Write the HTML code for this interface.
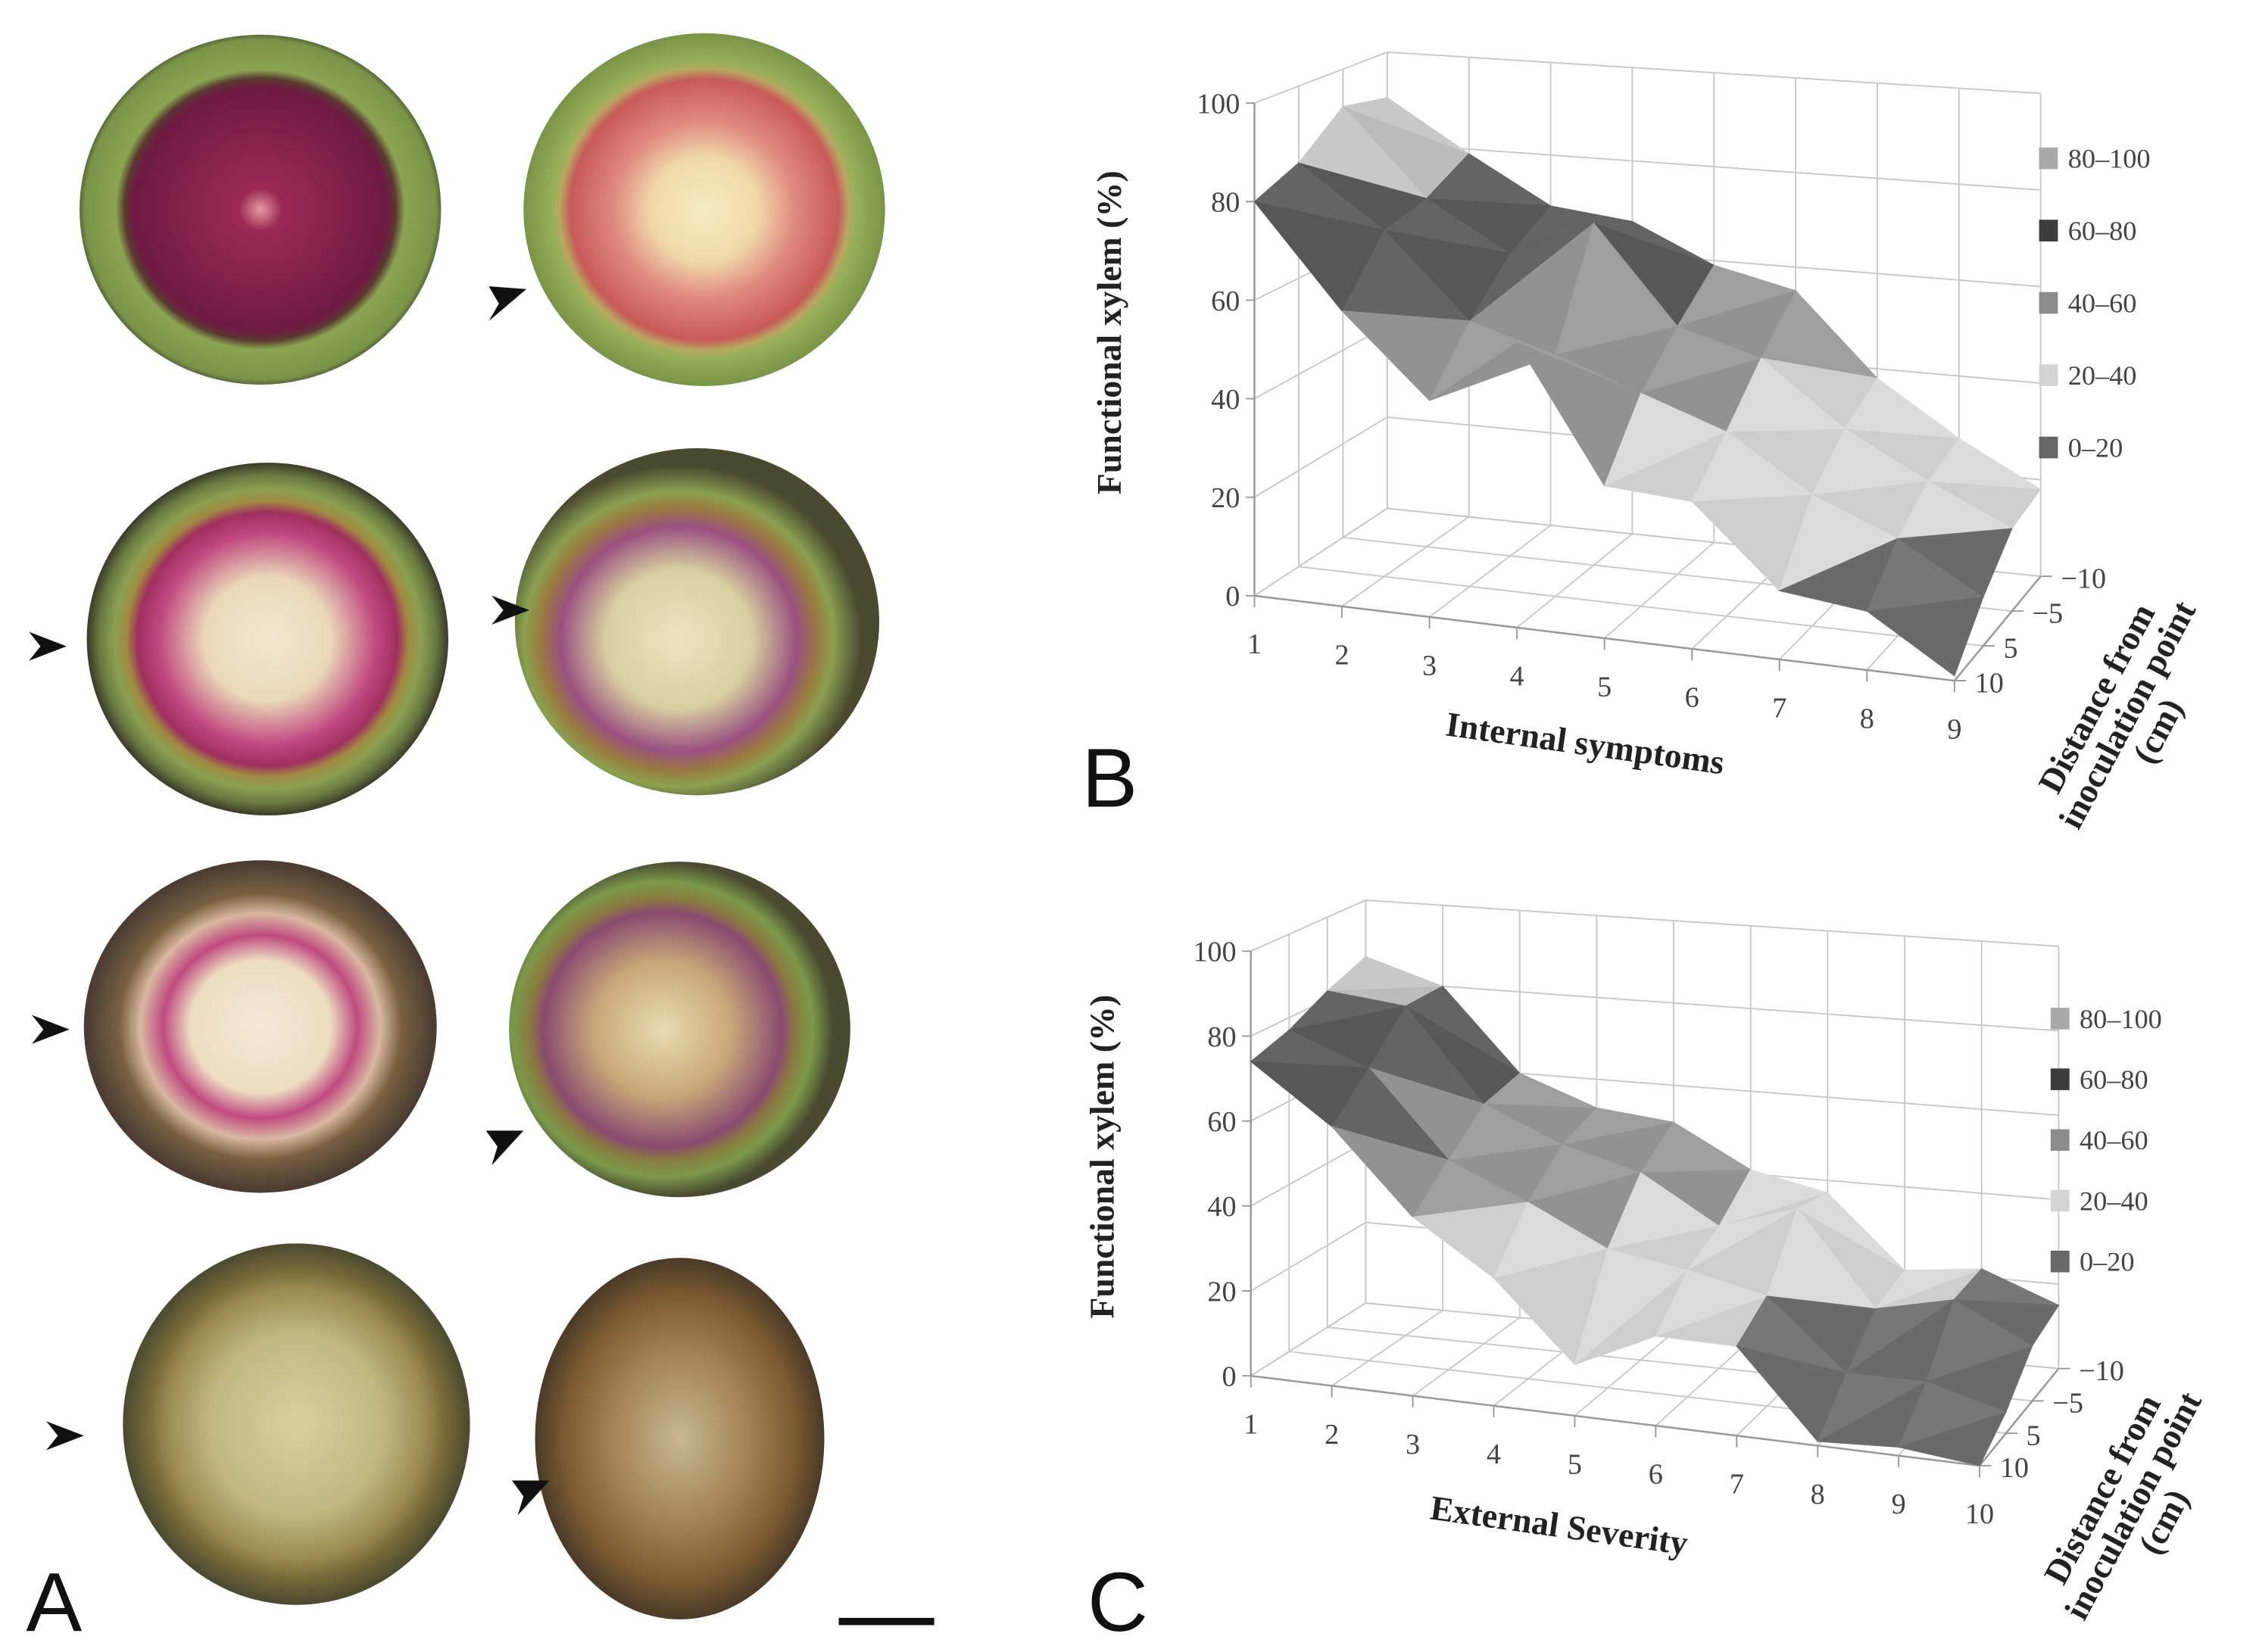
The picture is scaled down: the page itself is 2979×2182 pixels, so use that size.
<!DOCTYPE html>
<html><head><meta charset="utf-8"><style>
html,body{margin:0;padding:0;background:#fff}
svg{display:block}
.tk{font-family:"Liberation Serif",serif;font-size:20px;fill:#444}
.ttl{font-family:"Liberation Serif",serif;font-weight:bold;font-size:24px;fill:#222}
.lg{font-family:"Liberation Serif",serif;font-size:19px;fill:#444}
.pl{font-family:"Liberation Sans",sans-serif;font-size:58px;fill:#111}
</style></head><body>
<svg id="fig" width="2979" height="2182" viewBox="0 0 1560 1142.6" preserveAspectRatio="none" xmlns="http://www.w3.org/2000/svg">
<defs>
<radialGradient id="g1"><stop offset="0" stop-color="#e89aa0"/><stop offset="0.12" stop-color="#9a2a55"/><stop offset="0.7" stop-color="#6e1a42"/><stop offset="0.75" stop-color="#5a3a30"/><stop offset="0.8" stop-color="#8aa452"/><stop offset="0.97" stop-color="#7a9448"/><stop offset="1" stop-color="#5a6a3a"/></radialGradient>
<radialGradient id="g2"><stop offset="0" stop-color="#f6ecc0"/><stop offset="0.3" stop-color="#f0d8a8"/><stop offset="0.5" stop-color="#e08a80"/><stop offset="0.74" stop-color="#c85a5a"/><stop offset="0.8" stop-color="#b8a860"/><stop offset="0.84" stop-color="#98b058"/><stop offset="1" stop-color="#7a9448"/></radialGradient>
<radialGradient id="g3"><stop offset="0" stop-color="#f0e8d0"/><stop offset="0.35" stop-color="#ead8b8"/><stop offset="0.6" stop-color="#c04880"/><stop offset="0.72" stop-color="#a03060"/><stop offset="0.78" stop-color="#a08a40"/><stop offset="0.85" stop-color="#8aa050"/><stop offset="0.93" stop-color="#6a7a40"/><stop offset="1" stop-color="#3c3a2a"/></radialGradient>
<radialGradient id="g4" cx="0.45" cy="0.55"><stop offset="0" stop-color="#ece4c0"/><stop offset="0.4" stop-color="#d8d0a0"/><stop offset="0.65" stop-color="#9a5080"/><stop offset="0.76" stop-color="#9a7a40"/><stop offset="0.85" stop-color="#8aa050"/><stop offset="1" stop-color="#4a4a30"/></radialGradient>
<radialGradient id="g5"><stop offset="0" stop-color="#f4ead8"/><stop offset="0.4" stop-color="#ecdcc0"/><stop offset="0.55" stop-color="#c04a80"/><stop offset="0.68" stop-color="#d8b8a0"/><stop offset="0.8" stop-color="#7a6040"/><stop offset="0.92" stop-color="#5a4a38"/><stop offset="1" stop-color="#4a3a30"/></radialGradient>
<radialGradient id="g6" cx="0.45" cy="0.5"><stop offset="0" stop-color="#e8dcb0"/><stop offset="0.4" stop-color="#c8a878"/><stop offset="0.7" stop-color="#8a4a70"/><stop offset="0.78" stop-color="#8a7a40"/><stop offset="0.88" stop-color="#7a9a4a"/><stop offset="1" stop-color="#4a4a30"/></radialGradient>
<radialGradient id="g7"><stop offset="0" stop-color="#d8d0a0"/><stop offset="0.5" stop-color="#c0b880"/><stop offset="0.75" stop-color="#9a8a50"/><stop offset="0.85" stop-color="#7a6a38"/><stop offset="1" stop-color="#4a4a30"/></radialGradient>
<radialGradient id="g8"><stop offset="0" stop-color="#c8b890"/><stop offset="0.5" stop-color="#a08050"/><stop offset="0.8" stop-color="#7a5a30"/><stop offset="1" stop-color="#4a3a28"/></radialGradient>
</defs>

<g>
<ellipse cx="180" cy="145" rx="125" ry="121" fill="url(#g1)"/>
<ellipse cx="487" cy="145" rx="125" ry="122" fill="url(#g2)"/>
<ellipse cx="185" cy="442" rx="125" ry="122" fill="url(#g3)"/>
<ellipse cx="482" cy="430" rx="126" ry="120" fill="url(#g4)"/>
<ellipse cx="180" cy="710" rx="122" ry="115" fill="url(#g5)"/>
<ellipse cx="470" cy="712" rx="118" ry="116" fill="url(#g6)"/>
<ellipse cx="205" cy="985" rx="120" ry="125" fill="url(#g7)"/>
<ellipse cx="470" cy="995" rx="100" ry="125" fill="url(#g8)"/>
<g fill="#111">
<path d="M364,200 L338,222 L345,210 L338,198 Z"/>
<path d="M46,447 L20,437 L28,447 L20,457 Z"/>
<path d="M366,422 L340,412 L348,422 L340,432 Z"/>
<path d="M48,712 L22,702 L30,712 L22,722 Z"/>
<path d="M362,782 L340,806 L344,793 L336,782 Z"/>
<path d="M58,993 L32,983 L40,993 L32,1003 Z"/>
<path d="M380,1024 L358,1048 L362,1035 L354,1024 Z"/>
</g>
<text class="pl" x="18" y="1128">A</text>
<rect x="580" y="1119" width="66" height="5" fill="#111"/>
</g>

<g id="chartB"></g>
<g id="chartC"></g>

<text class="pl" x="748" y="558">B</text>
<text class="pl" x="752" y="1128">C</text>
</svg>
<script>
// ---- Chart B data ----
const bCats = ["1","2","3","4","5","6","7","8","9"];
const bDepths = ["10","5","\u22125","\u221210"];
const bRow10 = [80, 60, 44, 58, 31, 30, 14, 12, 1];
const bRow5 = [84, 72, 55, 50, 44, 38, 27, 20, 10];
const bRowM5 = [92, 74, 64, 72, 52, 47, 34, 25, 17];
const bRowM10 = [90, 79, 69, 67, 59, 55, 38, 27, 18];
const bZTicks = [0, 20, 40, 60, 80, 100];
// ---- Chart C data ----
const cCats = ["1","2","3","4","5","6","7","8","9","10"];
const cDepths = ["10","5","\u22125","\u221210"];
const cRow10 = [74, 61, 42, 30, 12, 21, 21, 1, 2, 0];
const cRow5 = [77, 70, 50, 42, 33, 30, 26, 10, 10, 5];
const cRowM5 = [82, 80, 58, 50, 45, 34, 40, 18, 22, 13];
const cRowM10 = [86, 80, 60, 53, 51, 41, 37, 20, 22, 15];
const cZTicks = [0, 20, 40, 60, 80, 100];
const legendLabels = ["80\u2013100","60\u201380","40\u201360","20\u201340","0\u201320"];

const NS = "http://www.w3.org/2000/svg";
function mk(parent, tag, attrs){const e=document.createElementNS(NS,tag);for(const k in attrs)e.setAttribute(k,attrs[k]);parent.appendChild(e);return e;}
function zx(x){return 785.5 + x*0.4965;}

function drawChart(g, geo, cats, depths, rows, zTicks, title){
  const nx = cats.length, nd = depths.length;
  function P(ix, id, z){
    const u = ix/(nx-1), v = id/(nd-1);
    const fx = geo.FL[0]*(1-u)*(1-v)+geo.FR[0]*u*(1-v)+geo.BL[0]*(1-u)*v+geo.BR[0]*u*v;
    const fy = geo.FL[1]*(1-u)*(1-v)+geo.FR[1]*u*(1-v)+geo.BL[1]*(1-u)*v+geo.BR[1]*u*v;
    const h = geo.H[0]*(1-u)*(1-v)+geo.H[1]*u*(1-v)+geo.H[2]*(1-u)*v+geo.H[3]*u*v;
    return [fx, fy - z/100*h];
  }
  const grid = mk(g,'g',{stroke:'#c8c8c8','stroke-width':1,fill:'none'});
  
  
  zTicks.forEach(t=>{
    const a=P(0,0,t),b=P(0,nd-1,t),c=P(nx-1,nd-1,t);
    mk(grid,'polyline',{points:`${a} ${b} ${c}`});
  });
  cats.forEach((c,i)=>{
    const a=P(i,0,0),b=P(i,nd-1,0),t=P(i,nd-1,100);
    mk(grid,'polyline',{points:`${a} ${b} ${t}`});
  });
  depths.forEach((d,j)=>{
    const a=P(0,j,100),b=P(0,j,0),c=P(nx-1,j,0);
    mk(grid,'polyline',{points:`${a} ${b} ${c}`});
  });
  const ax = mk(g,'g',{stroke:'#999','stroke-width':1.3,fill:'none'});
  
  
  mk(ax,'line',{x1:P(0,0,0)[0],y1:P(0,0,0)[1],x2:P(0,0,100)[0],y2:P(0,0,100)[1]});
  mk(ax,'line',{x1:P(0,0,0)[0],y1:P(0,0,0)[1],x2:P(nx-1,0,0)[0],y2:P(nx-1,0,0)[1]});
  mk(ax,'line',{x1:P(nx-1,0,0)[0],y1:P(nx-1,0,0)[1],x2:P(nx-1,nd-1,0)[0],y2:P(nx-1,nd-1,0)[1]});
  const bandCol = z => z>=80?'#c6c6c6':z>=60?'#5c5c5c':z>=40?'#9a9a9a':z>=20?'#dadada':'#707070';
  const surf = mk(g,'g',{});
  
  
  function tri(pts, zs, k){
    const avg=(zs[0]+zs[1]+zs[2])/3;
    const col=bandCol(avg);
    const p=pts.map(q=>q.join(',')).join(' ');
    const el=mk(surf,'polygon',{points:p,fill:col,stroke:col,'stroke-width':0.6});
    
    
    const sh = mk(surf,'polygon',{points:p,fill:k?'#000':'#fff','fill-opacity':0.05});
    
    
  }
  for(let j=nd-2;j>=0;j--){
    for(let i=0;i<nx-1;i++){
      const z00=rows[j][i],z10=rows[j][i+1],z01=rows[j+1][i],z11=rows[j+1][i+1];
      const a=P(i,j,z00),b=P(i+1,j,z10),c=P(i,j+1,z01),d=P(i+1,j+1,z11);
      tri([c,d,a],[z01,z11,z00],0);
      tri([a,d,b],[z00,z11,z10],1);
    }
  }
  zTicks.forEach(t=>{
    const p=P(0,0,t);
    mk(g,'line',{x1:p[0]-6,y1:p[1],x2:p[0],y2:p[1],stroke:'#999'});
    const e=mk(g,'text',{x:p[0]-10,y:p[1]+7,class:'tk','text-anchor':'end'});
    e.textContent=t;
    
    
  });
  cats.forEach((c,i)=>{
    const p=P(i,0,0);
    mk(g,'line',{x1:p[0],y1:p[1],x2:p[0],y2:p[1]+8,stroke:'#999'});
    const e=mk(g,'text',{x:p[0],y:p[1]+40,class:'tk','text-anchor':'middle'});
    e.textContent=c;
    
    
  });
  depths.forEach((d,j)=>{
    const p=P(nx-1,j,0);
    mk(g,'line',{x1:p[0],y1:p[1],x2:p[0]+8,y2:p[1],stroke:'#999'});
    const e=mk(g,'text',{x:p[0]+14,y:p[1]+8,class:'tk'});
    e.textContent=d;
    
    
  });
  const legCols=['#a9a9a9','#3c3c3c','#8c8c8c','#d4d4d4','#676767'];
  legendLabels.forEach((l,k)=>{
    const y=geo.legY+k*geo.legDy;
    const r=mk(g,'rect',{x:geo.legX,y:y-8,width:13,height:15,fill:legCols[k]});
    
    
    const e=mk(g,'text',{x:geo.legX+20,y:y+6,class:'lg'});
    e.textContent=l;
    
    
  });
  const yt=mk(g,'text',{class:'ttl','text-anchor':'middle',transform:`translate(${geo.yT[0]},${geo.yT[1]}) rotate(-90)`});
  yt.textContent='Functional xylem (%)';
  
  
  const xt=mk(g,'text',{class:'ttl','text-anchor':'middle',transform:`translate(${geo.xT[0]},${geo.xT[1]}) rotate(8)`});
  xt.textContent=title;
  
  
  const dt=mk(g,'text',{class:'ttl','text-anchor':'middle',transform:`translate(${geo.dT[0]},${geo.dT[1]}) rotate(-62)`});
  
  
  ['Distance from','inoculation point','(cm)'].forEach((s,k)=>{
    const ts=mk(dt,'tspan',{x:0,y:(k-1)*24});ts.textContent=s;
  });
}

const geoB={FL:[zx(165),20.95+1165*0.3357],FR:[zx(1140),20.95+1340*0.3357],BL:[zx(350),20.95+985*0.3357],BR:[zx(1260),20.95+1125*0.3357],
  H:[1015*0.3357,1010*0.3357,940*0.3357,995*0.3357],legX:1410,legY:110,legDy:50,yT:[775,230],xT:[1095,522],dT:[1478,498]};
drawChart(document.getElementById('chartB'),geoB,bCats,bDepths,[bRow10,bRow5,bRowM5,bRowM10],bZTicks,'Internal symptoms');

const cy0=607.5;
const geoC={FL:[zx(160),cy0+1025*0.3357],FR:[zx(1175),cy0+1210*0.3357],BL:[zx(320),cy0+875*0.3357],BR:[zx(1285),cy0+1010*0.3357],
  H:[875*0.3357,880*0.3357,830*0.3357,870*0.3357],legX:1418,legY:705,legDy:42,yT:[770,800],xT:[1077,1063],dT:[1482,1045]};
drawChart(document.getElementById('chartC'),geoC,cCats,cDepths,[cRow10,cRow5,cRowM5,cRowM10],cZTicks,'External Severity');
</script>
</body></html>
